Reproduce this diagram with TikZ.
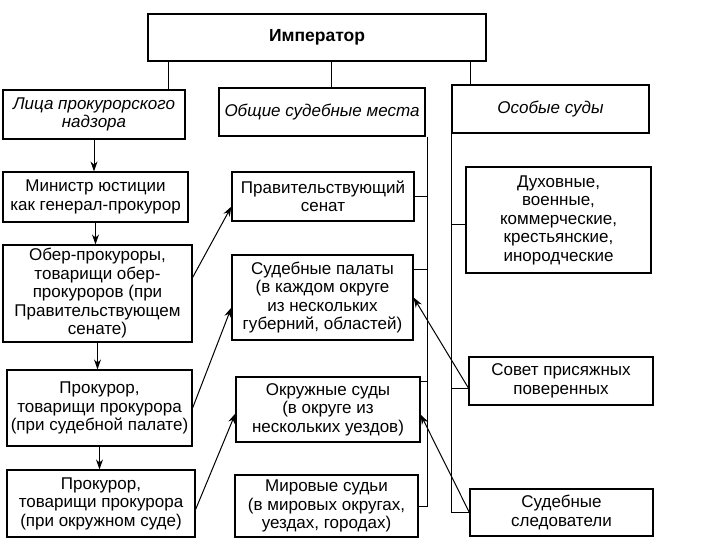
\documentclass[tikz,border=0pt]{standalone}
\usepackage{fontspec}
\setmainfont{Liberation Sans}
\usetikzlibrary{arrows.meta}

\begin{document}
\begin{tikzpicture}[x=1pt,y=-1pt,line width=1pt,font=\fontsize{17}{18.5}\selectfont,
  box/.style={draw,line width=1.2pt,align=center,inner sep=2pt},
  head/.style={box,font=\fontsize{17}{18.5}\selectfont\itshape},
  arr/.style={-{Stealth[length=10pt,width=7pt]}}]
\useasboundingbox (0,0) rectangle (720,540);
\node[box,minimum width=338,minimum height=47,font=\fontsize{17.5}{18.5}\selectfont\bfseries] (imp) at (317,37.5) {Император};
\node[head,minimum width=182,minimum height=49] (lica) at (94,114.5) {Лица прокурорского\\надзора};
\node[head,minimum width=206,minimum height=48] (obsh) at (322,112) {Общие судебные места};
\node[head,minimum width=197,minimum height=48] (osob) at (550.5,109) {Особые суды};
% left column
\node[box,minimum width=185,minimum height=50] (min) at (95.5,197) {Министр юстиции\\как генерал-прокурор};
\node[box,minimum width=189,minimum height=97] (ober) at (97.5,293.5) {Обер-прокуроры,\\товарищи обер-\\прокуроров (при\\Правительствующем\\сенате)};
\node[box,minimum width=185,minimum height=76] (prok1) at (99.5,408) {Прокурор,\\товарищи прокурора\\(при судебной палате)};
\node[box,minimum width=188,minimum height=67] (prok2) at (101,503.5) {Прокурор,\\товарищи прокурора\\(при окружном суде)};
% middle column
\node[box,minimum width=182,minimum height=49] (senat) at (323,196.5) {Правительствующий\\сенат};
\node[box,minimum width=181,minimum height=85] (palaty) at (322.5,297.5) {Судебные палаты\\(в каждом округе\\из нескольких\\губерний, областей)};
\node[box,minimum width=184,minimum height=65] (okr) at (328,409.5) {Окружные суды\\(в округе из\\нескольких уездов)};
\node[box,minimum width=183,minimum height=62] (mir) at (326.5,506) {Мировые судьи\\(в мировых округах,\\уездах, городах)};
% right column
\node[box,minimum width=185,minimum height=106] (duh) at (558.5,220) {Духовные,\\военные,\\коммерческие,\\крестьянские,\\инородческие};
\node[box,minimum width=184,minimum height=48] (sovet) at (561,381) {Совет присяжных\\поверенных};
\node[box,minimum width=183,minimum height=47] (sled) at (561.5,512.5) {Судебные\\следователи};
% from the emperor
\draw (168,0 |- imp.south) -- (168,0 |- lica.north);
\draw (331,0 |- imp.south) -- (331,0 |- obsh.north);
\draw (470,0 |- imp.south) -- (470,0 |- osob.north);
% prosecutors
\draw[arr] (lica.south) -- (lica.south |- min.north);
\draw[arr] (min.south) -- (min.south |- ober.north);
\draw[arr] (ober.south) -- (ober.south |- prok1.north);
\draw[arr] (prok1.south) -- (prok1.south |- prok2.north);
% general courts
\coordinate (obr) at ([xshift=2pt]obsh.south east);
\coordinate (palin) at ([yshift=28pt]palaty.east);
\coordinate (okrin) at ([yshift=28pt]okr.east);
\draw (obr) -- (obr |- mir.east) -- (mir.east);
\draw (obr |- senat.east) -- (senat.east);
\draw (obr |- palin) -- (palin);
\draw (obr |- okrin) -- (okrin);
% special courts
\coordinate (duhin) at ([yshift=-5pt]duh.west);
\coordinate (sovin) at ([yshift=-7pt]sovet.west);
\draw (osob.south west) -- (osob.south west |- sled.west) -- (sled.west);
\draw (osob.south west |- duhin) -- (duhin);
\draw (osob.south west |- sovin) -- (sovin);
% supervision
\draw[arr] ([yshift=16pt]ober.east) -- ([yshift=-10pt]senat.west);
\draw[arr] (prok1.east) -- ([yshift=-10pt]palaty.west);
\draw[arr] ([yshift=-6pt]prok2.east) -- ([yshift=-4pt]okr.west);
\draw[arr] (sovin) -- (palaty.east);
\draw[arr] (sled.west) -- ([yshift=-5pt]okr.east);
\end{tikzpicture}
\end{document}
